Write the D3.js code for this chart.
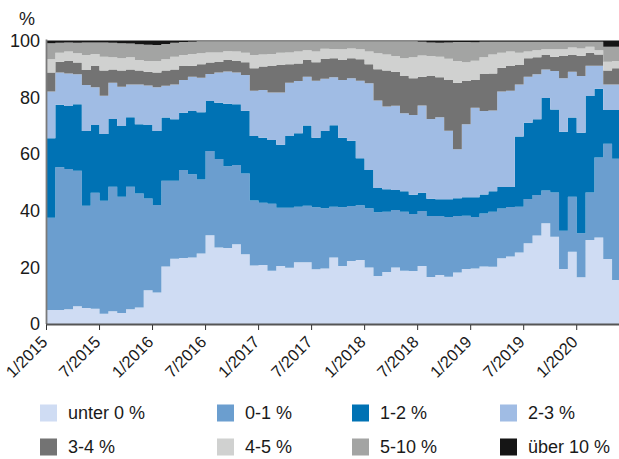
<!DOCTYPE html>
<html>
<head>
<meta charset="utf-8">
<script src="https://cdn.jsdelivr.net/npm/d3@7"></script>
<style>
  body { margin: 0; background: #fff; }
  text { font-family: 'Liberation Sans', Arial, sans-serif; fill: #1a1a1a; }
</style>
</head>
<body>
<div id="chart"></div>
<script>
// monthly shares (%), 1/2015 .. 5/2020
const months = d3.range(65).map(i => `${(i % 12) + 1}/${2015 + Math.floor(i / 12)}`)

const under0 = [4.9, 4.9, 5.2, 6.3, 5.6, 5.4, 3.6, 4.5, 3.9, 5.2, 5.8, 11.9, 11.1, 20.3, 23.0, 23.3, 23.5, 24.9, 31.3, 27.0,
  26.8, 28.1, 24.6, 20.6, 20.8, 18.8, 20.5, 19.8, 21.8, 21.8, 19.3, 19.6, 23.5, 20.5, 22.2, 22.6, 19.9, 16.9, 18.3, 19.9,
  18.8, 18.7, 20.5, 16.6, 17.3, 16.7, 18.2, 19.4, 19.6, 20.3, 20.2, 23.2, 23.8, 25.2, 28.5, 31.2, 35.5, 30.8, 19.4, 25.5,
  16.5, 29.6, 30.5, 22.9, 15.5]
const p0to1 = [32.6, 50.4, 49.5, 47.8, 36.1, 40.9, 39.9, 43.9, 41.0, 43.2, 40.2, 32.4, 30.9, 30.2, 27.5, 31.0, 29.3, 26.1, 29.7, 31.2,
  28.8, 28.0, 28.5, 23.0, 22.0, 23.6, 20.5, 21.2, 19.6, 19.9, 21.9, 21.2, 17.9, 20.7, 19.4, 19.3, 20.9, 22.5, 21.3, 20.3,
  20.8, 20.1, 19.4, 21.5, 20.8, 21.0, 19.9, 18.8, 18.1, 18.7, 19.4, 17.5, 17.5, 16.2, 15.6, 14.3, 11.6, 15.6, 13.5, 19.4,
  15.5, 16.8, 28.2, 40.7, 42.8]
const p1to2 = [28.0, 22.0, 22.2, 23.4, 26.4, 23.9, 23.5, 23.9, 24.9, 24.5, 24.5, 25.9, 26.1, 22.3, 21.7, 20.2, 22.3, 23.7, 17.7, 19.8,
  22.1, 21.4, 22.1, 22.7, 22.9, 22.5, 22.2, 25.3, 25.9, 28.3, 24.5, 27.3, 28.7, 24.5, 23.0, 16.6, 13.5, 8.6, 7.9, 7.1,
  7.2, 6.8, 6.4, 6.1, 5.9, 6.3, 6.3, 6.5, 7.0, 6.7, 7.2, 7.6, 7.0, 24.7, 26.9, 26.7, 32.6, 29.3, 34.9, 27.9,
  35.5, 34.0, 24.3, 11.9, 17.2]
const p2to3 = [16.5, 11.4, 11.5, 10.6, 16.2, 13.3, 13.5, 12.8, 13.9, 11.6, 14.0, 13.9, 15.4, 11.2, 12.3, 11.6, 12.1, 12.2, 9.5, 10.7,
  11.4, 11.2, 12.6, 16.0, 16.8, 16.8, 18.5, 18.8, 18.4, 17.2, 20.1, 18.4, 16.9, 20.4, 22.1, 27.3, 30.6, 30.8, 29.2, 29.7,
  27.5, 28.1, 30.8, 28.1, 28.9, 24.2, 17.2, 25.8, 31.6, 29.4, 28.5, 33.7, 34.0, 18.4, 16.2, 15.9, 10.1, 13.5, 18.9, 16.2,
  20.0, 10.7, 8.1, 9.0, 9.0]
const p3to4 = [6.7, 3.8, 4.4, 4.1, 5.3, 7.5, 8.9, 4.7, 5.7, 5.3, 4.9, 4.9, 5.2, 5.4, 5.3, 4.9, 3.9, 4.7, 4.0, 3.7,
  4.0, 4.1, 4.5, 7.9, 8.3, 9.3, 9.7, 6.5, 6.2, 5.9, 6.5, 7.0, 6.7, 7.0, 7.0, 7.6, 6.7, 11.1, 12.7, 12.0,
  13.2, 13.0, 10.1, 15.2, 14.1, 17.9, 23.5, 15.2, 9.8, 13.1, 13.1, 8.4, 8.7, 6.9, 6.5, 6.0, 5.1, 5.1, 7.8, 5.9,
  7.1, 4.6, 4.0, 4.9, 5.7]
const p4to5 = [4.7, 3.2, 3.3, 3.3, 5.3, 4.2, 4.9, 4.3, 4.3, 4.3, 3.7, 3.8, 4.1, 4.0, 4.5, 3.9, 4.1, 3.9, 3.6, 3.4,
  3.1, 3.3, 3.4, 4.7, 4.3, 4.2, 4.3, 4.2, 4.2, 3.5, 3.8, 3.6, 3.3, 3.8, 3.5, 3.5, 4.5, 5.6, 5.7, 5.5,
  6.2, 7.4, 7.5, 7.0, 7.3, 7.5, 7.7, 6.6, 6.8, 5.9, 6.7, 5.3, 5.1, 4.3, 2.4, 2.5, 2.0, 2.6, 2.4, 2.6,
  2.6, 2.1, 1.5, 3.1, 2.6]
const p5to10 = [5.6, 3.5, 3.2, 3.7, 4.4, 4.1, 5.0, 5.1, 5.3, 4.8, 5.6, 5.7, 5.6, 5.4, 4.9, 4.6, 4.4, 4.2, 3.9, 3.9,
  3.5, 3.6, 4.0, 4.8, 4.6, 4.5, 4.0, 3.9, 3.6, 3.1, 3.6, 2.6, 2.7, 2.8, 2.5, 2.8, 3.6, 4.2, 4.6, 5.2,
  6.0, 5.6, 4.9, 4.8, 4.9, 5.7, 6.7, 7.2, 6.5, 5.5, 4.5, 3.9, 3.5, 3.9, 3.5, 3.0, 2.7, 2.7, 2.7, 2.1,
  2.4, 1.8, 3.0, 5.3, 5.0]
const over10 = [1.0, 0.8, 0.7, 0.8, 0.7, 0.7, 0.7, 0.8, 1.0, 1.1, 1.3, 1.5, 1.6, 1.2, 0.8, 0.5, 0.4, 0.3, 0.3, 0.3,
  0.3, 0.3, 0.3, 0.3, 0.3, 0.3, 0.3, 0.3, 0.3, 0.3, 0.3, 0.3, 0.3, 0.3, 0.3, 0.3, 0.3, 0.3, 0.3, 0.3,
  0.3, 0.3, 0.4, 0.7, 0.8, 0.7, 0.5, 0.5, 0.6, 0.4, 0.4, 0.4, 0.4, 0.4, 0.4, 0.4, 0.4, 0.4, 0.4, 0.4,
  0.4, 0.4, 0.4, 2.2, 2.2]

const keys = ['unter 0 %', '0-1 %', '1-2 %', '2-3 %', '3-4 %', '4-5 %', '5-10 %', 'über 10 %']
const seriesValues = [under0, p0to1, p1to2, p2to3, p3to4, p4to5, p5to10, over10]
const colors = ['#cfdcf3', '#6b9ecf', '#0072b4', '#a0bce4', '#737373', '#d0d1d0', '#a3a4a3', '#151515']

const yTicks = [0, 20, 40, 60, 80, 100]
const xTickLabels = ['1/2015', '7/2015', '1/2016', '7/2016', '1/2017', '7/2017', '1/2018', '7/2018', '1/2019', '7/2019', '1/2020']

const width = 619
const height = 459

const svg = d3.select('#chart')
  .append('svg')
  .attr('width', width)
  .attr('height', height)

const xScale = d3.scaleLinear().domain([0, 65]).range([46.5, 620.9])
const yScale = d3.scaleLinear().domain([0, 100]).range([324, 40.5])

// rows for the stack, plus one closing row so the last step gets its width
const rows = months.map((m, i) => {
  const row = { i: i }
  keys.forEach((k, j) => { row[k] = seriesValues[j][i] })
  return row
})
rows.push(Object.assign({}, rows[rows.length - 1], { i: months.length }))

const stacked = d3.stack().keys(keys)(rows)

const area = d3.area()
  .curve(d3.curveStepAfter)
  .x(d => xScale(d.data.i))
  .y0(d => yScale(d[0]))
  .y1(d => yScale(d[1]))

svg.append('g')
  .selectAll('path')
  .data(stacked)
  .enter()
  .append('path')
  .attr('d', area)
  .attr('fill', (d, i) => colors[i])

// y axis
svg.append('line')
  .attr('x1', 46.5).attr('x2', 46.5)
  .attr('y1', 39.5).attr('y2', 324)
  .attr('stroke', '#7a7a7a')
  .attr('stroke-width', 1.8)

svg.selectAll('.y-label')
  .data(yTicks)
  .enter()
  .append('text')
  .attr('class', 'y-label')
  .attr('x', 40)
  .attr('y', d => yScale(d))
  .attr('dy', '0.36em')
  .attr('text-anchor', 'end')
  .attr('font-size', 18)
  .text(d => d)

svg.append('text')
  .attr('x', 19)
  .attr('y', 25)
  .attr('font-size', 18)
  .text('%')

// x axis
svg.append('line')
  .attr('x1', 46).attr('x2', width)
  .attr('y1', 324.5).attr('y2', 324.5)
  .attr('stroke', '#555')
  .attr('stroke-width', 2)

const xTicks = svg.selectAll('.x-tick')
  .data(xTickLabels)
  .enter()
  .append('g')
  .attr('class', 'x-tick')
  .attr('transform', (d, i) => `translate(${xScale(i * 6)},0)`)

xTicks.append('line')
  .attr('y1', 325).attr('y2', 330)
  .attr('stroke', '#333')
  .attr('stroke-width', 1)

xTicks.append('text')
  .attr('text-anchor', 'end')
  .attr('font-size', 16.5)
  .attr('transform', 'translate(2,343) rotate(-45)')
  .text(d => d)

// legend
const legendX = [40, 217, 352, 500]
const legendY = [413, 447]

const legend = svg.selectAll('.legend-entry')
  .data(keys)
  .enter()
  .append('g')
  .attr('class', 'legend-entry')
  .attr('transform', (d, i) => `translate(${legendX[i % 4]},${legendY[Math.floor(i / 4)]})`)

legend.append('rect')
  .attr('x', 0)
  .attr('y', -8.5)
  .attr('width', 17)
  .attr('height', 17)
  .attr('fill', (d, i) => colors[i])

legend.append('text')
  .attr('x', 28)
  .attr('y', 0)
  .attr('dy', '0.36em')
  .attr('font-size', 18)
  .text(d => d)
</script>
</body>
</html>
